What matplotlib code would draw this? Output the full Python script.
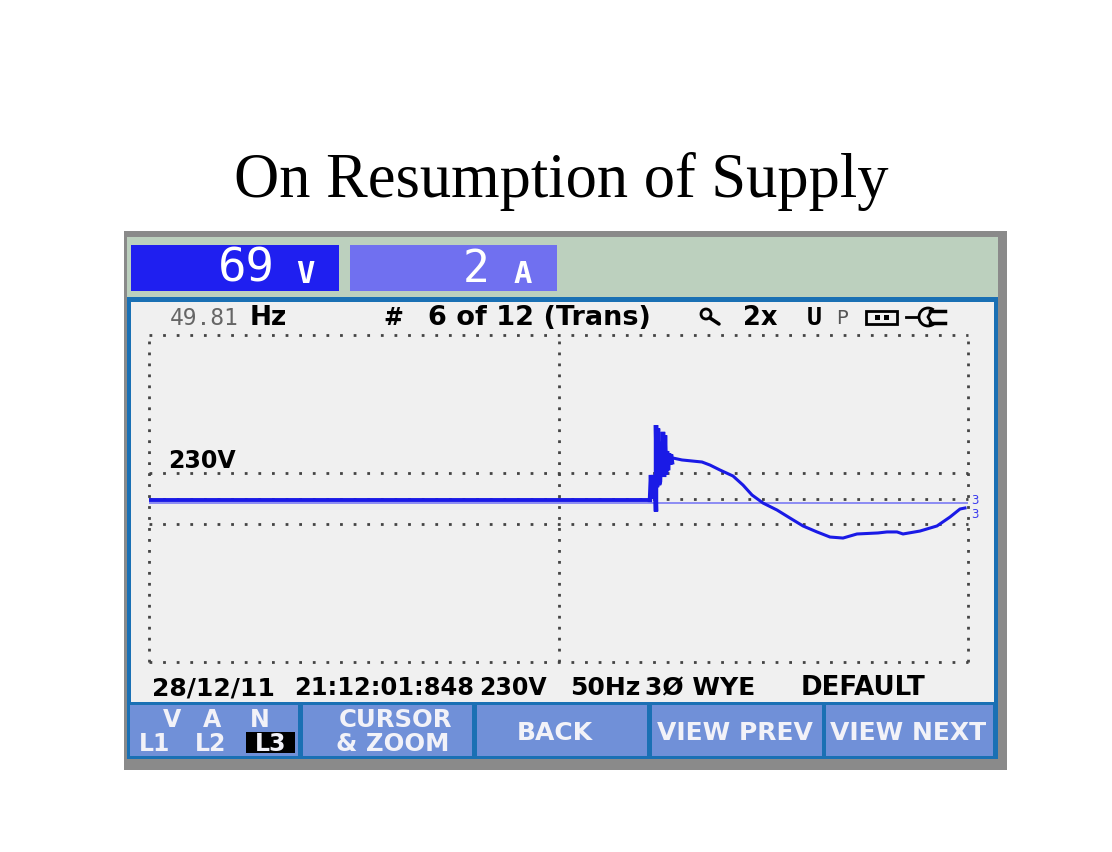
import matplotlib
matplotlib.use("Agg")
import matplotlib.pyplot as plt
from matplotlib.patches import Rectangle, Circle, Wedge

plt.rcParams["lines.scale_dashes"] = False

# ---- data (sample index, volts) ----
flat_t = [0, 250, 500]
flat_v = [-13, -13, -13]
burst_t = [501, 502, 503, 504, 505, 506, 507, 507, 508, 509, 510, 511, 512, 513,
           514, 515, 516, 517, 518, 519, 520, 521, 522, 523]
burst_v = [-13, 208, 0, 208, 0, 208, -115, 650, 100, 620, 120, 150, 500, 200,
           590, 190, 560, 210, 420, 250, 400, 300, 390, 320]
curve_t = [524, 533, 543, 553, 561, 571, 584, 594, 603, 614, 628, 641, 654, 668,
           681, 694, 708, 729, 738, 748, 754, 771, 788, 801, 811, 816]
curve_v = [358, 341, 332, 323, 296, 252, 199, 119, 31, -40, -102, -173, -243, -296,
           -341, -350, -314, -305, -296, -296, -314, -288, -243, -164, -93, -84]
ref_v = -40
nominal = [230, 0, -230]
y_limit = 1447
x_limit = 819

title = "On Resumption of Supply"
volts_txt, volts_unit = "69", "V"
amps_txt, amps_unit = "2", "A"
status = ["49.81", "Hz", "#", "6 of 12 (Trans)", "2x", "U"]
footer = ["28/12/11", "21:12:01:848", "230V", "50Hz", "3Ø WYE", "DEFAULT"]
softkeys = ["CURSOR", "& ZOOM", "BACK", "VIEW PREV", "VIEW NEXT"]

W, H = 1112, 853
fig = plt.figure(figsize=(W / 100, H / 100), dpi=100, facecolor="white")

# pixel-space layer for the instrument body
bg = fig.add_axes([0, 0, 1, 1])
bg.set_xlim(0, W)
bg.set_ylim(H, 0)
bg.axis("off")

def box(x0, y0, x1, y1, color, **kw):
    bg.add_patch(Rectangle((x0, y0), x1 - x0, y1 - y0, facecolor=color, edgecolor="none", **kw))

MONO = "DejaVu Sans Mono"
SANS = "DejaVu Sans"

def label(s, x, y, size, color="black", weight="bold", ha="left", family=SANS, **kw):
    return bg.text(x, y, s, fontsize=size, color=color, fontweight=weight, ha=ha,
                   va="center", family=family, **kw)

box(124, 232, 1007, 771, "#8a8a8a")
box(127, 238, 998, 298, "#bcd0be")
box(127, 298, 998, 760, "#1a70b4")
box(131, 303, 994, 703, "#f0f0f0")
box(131, 246, 339, 292, "#1f1ff0")
box(350, 246, 557, 292, "#7070f0")
for x0, x1 in [(130, 298), (303, 472), (477, 647), (652, 822), (826, 993)]:
    box(x0, 706, x1, 757, "#7090d8")
box(246, 733, 295, 754, "black")

bg.text(561, 181, title, fontsize=45, family="Liberation Serif", ha="center",
        va="center", color="black")

label(volts_txt, 246, 269, 34, "white", "normal", "center", MONO)
label(volts_unit, 305, 274, 22, "white", "bold", "center", MONO)
label(amps_txt, 476, 269, 32, "white", "normal", "center", MONO)
label(amps_unit, 523, 274, 22, "white", "bold", "center", MONO)

label(status[0], 170, 318, 16.5, "#666666", "normal", family=MONO)
label(status[1], 250, 318, 19)
label(status[2], 383, 318, 17)
label(status[3], 428, 318, 19.5)
label(status[4], 743, 318, 18.5)
label(status[5], 807, 318, 18, family=MONO)
label("230V", 168, 461, 17)
label("P", 836, 318, 14, "#555555", "normal")

# status icons
bg.add_patch(Circle((706, 315), 5, fill=False, ec="black", lw=2))
bg.plot([710, 719], [319, 325], color="black", lw=2.5, solid_capstyle="round")
bg.add_patch(Rectangle((866, 312), 31, 13, fill=False, ec="black", lw=2))
box(875, 316, 880, 321, "black")
box(884, 316, 889, 321, "black")
bg.plot([906, 918], [318, 318], color="black", lw=2)
bg.add_patch(Wedge((928, 318), 9, 60, 300, fill=False, ec="black", lw=2))
bg.plot([930, 945], [312, 312], color="black", lw=2.5)
bg.plot([930, 945], [324, 324], color="black", lw=2.5)

label(footer[0], 152, 688, 18)
label(footer[1], 294, 688, 17.4)
label(footer[2], 479, 688, 17)
label(footer[3], 570, 688, 18)
label(footer[4], 645, 688, 18)
label(footer[5], 801, 688, 18.7)

KEY = "#f2f2f8"
for s, x in zip(["V", "A", "N"], [172, 212, 260]):
    label(s, x, 720, 17, KEY, ha="center")
for s, x in zip(["L1", "L2", "L3"], [155, 211, 271]):
    label(s, x, 744, 17, KEY, ha="center")
label(softkeys[0], 395, 720, 17.6, KEY, ha="center")
label(softkeys[1], 393, 744, 17.6, KEY, ha="center")
label(softkeys[2], 555, 733, 18, KEY, ha="center")
label(softkeys[3], 735, 733, 18, KEY, ha="center")
label(softkeys[4], 908, 733, 18, KEY, ha="center")
label("3", 975, 501, 8.5, "#3a3aee", "normal", "center")
label("3", 975, 515, 8.5, "#3a3aee", "normal", "center")

# trace axes
ax = fig.add_axes([149 / W, 1 - 663 / H, 819 / W, 327 / H])
ax.set_xlim(0, x_limit)
ax.set_ylim(-y_limit, y_limit)
ax.axis("off")
ax.patch.set_alpha(0)

DOT = "#444444"
h_dash = (0, (2.0, 7.8))
v_dash = (0, (2.0, 5.9))
for v in nominal + [y_limit, -y_limit]:
    ax.axhline(v, color=DOT, lw=2.0, linestyle=h_dash, clip_on=False, dash_capstyle="butt", zorder=1)
for x in [0, x_limit / 2, x_limit]:
    ax.axvline(x, color=DOT, lw=2.0, linestyle=v_dash, clip_on=False, dash_capstyle="butt", zorder=1)

ax.axhline(ref_v, color="#8c8cf4", lw=1.4, zorder=2)
TRACE = "#1a1ae6"
ax.plot(flat_t, flat_v, color=TRACE, lw=2.8, zorder=3, solid_capstyle="butt")
ax.plot(burst_t, burst_v, color=TRACE, lw=3.2, zorder=3, solid_joinstyle="miter")
ax.plot(curve_t, curve_v, color=TRACE, lw=2.2, zorder=3, solid_joinstyle="round")

fig.savefig("out.png", dpi=100, facecolor="white")
